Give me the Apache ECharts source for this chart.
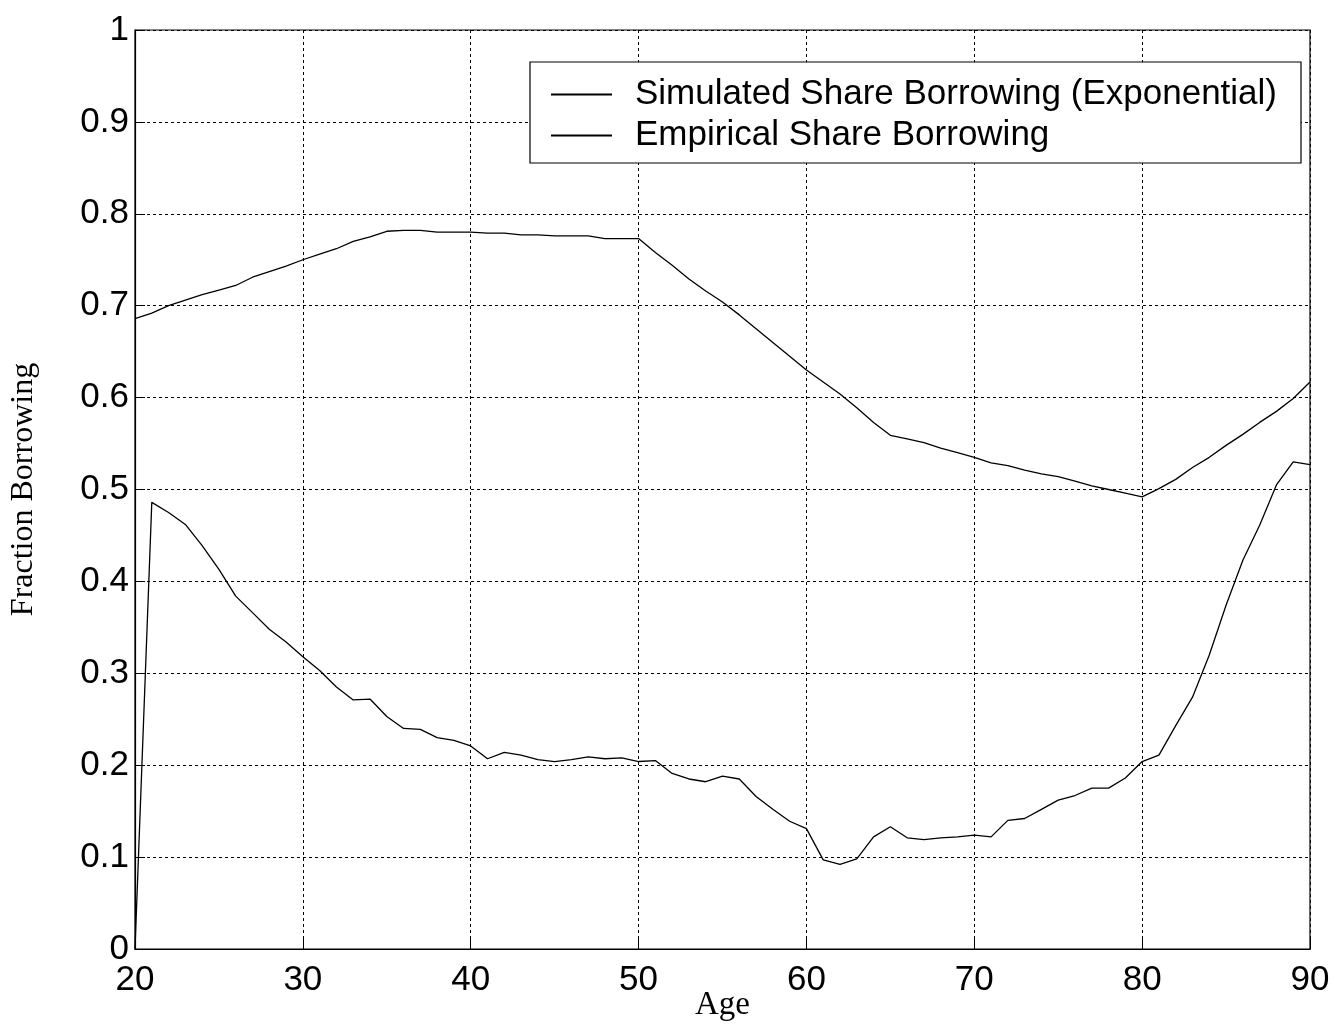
<!DOCTYPE html>
<html>
<head>
<meta charset="utf-8">
<script src="https://cdn.jsdelivr.net/npm/echarts@6/dist/echarts.min.js"></script>
<style>
html,body{margin:0;padding:0;background:#fff;}
#chart{width:1341px;height:1024px;}
</style>
</head>
<body>
<div id="chart"></div>
<script>
const ages = [20,21,22,23,24,25,26,27,28,29,30,31,32,33,34,35,36,37,38,39,40,41,42,43,44,45,46,47,48,49,50,51,52,53,54,55,56,57,58,59,60,61,62,63,64,65,66,67,68,69,70,71,72,73,74,75,76,77,78,79,80,81,82,83,84,85,86,87,88,89,90];
const simulated = [0.686,0.692,0.700,0.706,0.712,0.717,0.722,0.731,0.737,0.743,0.750,0.756,0.762,0.770,0.775,0.781,0.782,0.782,0.780,0.780,0.780,0.779,0.779,0.777,0.777,0.776,0.776,0.776,0.773,0.773,0.773,0.758,0.744,0.729,0.716,0.704,0.690,0.675,0.660,0.645,0.630,0.617,0.604,0.589,0.573,0.559,0.555,0.551,0.545,0.540,0.535,0.529,0.526,0.521,0.517,0.514,0.509,0.504,0.500,0.496,0.492,0.501,0.511,0.524,0.535,0.548,0.560,0.573,0.585,0.599,0.617];
const empirical = [0,0.486,0.475,0.462,0.439,0.413,0.384,0.366,0.348,0.334,0.318,0.303,0.285,0.271,0.272,0.253,0.240,0.239,0.230,0.227,0.221,0.207,0.214,0.211,0.206,0.204,0.206,0.209,0.207,0.208,0.204,0.205,0.191,0.185,0.182,0.188,0.185,0.166,0.152,0.139,0.131,0.097,0.092,0.098,0.122,0.133,0.121,0.119,0.121,0.122,0.124,0.122,0.140,0.142,0.152,0.162,0.167,0.175,0.175,0.186,0.204,0.211,0.243,0.274,0.320,0.374,0.423,0.461,0.505,0.530,0.527];
const seriesNames = ['Simulated Share Borrowing (Exponential)','Empirical Share Borrowing'];
const xTicks = {min:20, max:90, interval:10};
const yTicks = {min:0, max:1, interval:0.1};

const chart = echarts.init(document.getElementById('chart'));
const grid = {lineStyle:{color:'#000',width:1,type:[3,3]}};
chart.setOption({
  backgroundColor:'#fff',
  animation:false,
  grid:{left:135,right:31,top:30,bottom:75,outerBoundsMode:'none',containLabel:false,show:true,borderColor:'#000',borderWidth:1.2,backgroundColor:'transparent'},
  legend:{
    orient:'vertical', left:530, top:62,
    backgroundColor:'#fff', borderColor:'#000', borderWidth:1.2,
    padding:[15,24,10,21], itemGap:6, itemWidth:61, itemHeight:2,
    icon:'rect',
    textStyle:{fontFamily:'Liberation Sans, Arial, sans-serif',fontSize:35,color:'#000',lineHeight:34,padding:[0,0,0,18]},
    data:seriesNames
  },
  xAxis:{
    type:'value', min:xTicks.min, max:xTicks.max, interval:xTicks.interval,
    name:'Age', nameLocation:'middle', nameGap:40, nameMoveOverlap:false,
    nameTextStyle:{fontFamily:'Liberation Serif, Times New Roman, serif',fontSize:33,color:'#000'},
    axisLine:{show:true,lineStyle:{color:'#000',width:1.2}},
    axisTick:{show:true,inside:true,length:10,lineStyle:{color:'#000'}},
    axisLabel:{fontFamily:'Liberation Sans, Arial, sans-serif',fontSize:35,color:'#000',margin:14},
    splitLine:{show:true,...grid}
  },
  yAxis:{
    type:'value', min:yTicks.min, max:yTicks.max, interval:yTicks.interval,
    name:'Fraction Borrowing', nameLocation:'middle', nameGap:95, nameMoveOverlap:false,
    nameTextStyle:{fontFamily:'Liberation Serif, Times New Roman, serif',fontSize:32,color:'#000'},
    axisLine:{show:true,lineStyle:{color:'#000',width:1.2}},
    axisTick:{show:true,inside:true,length:10,lineStyle:{color:'#000'}},
    axisLabel:{fontFamily:'Liberation Sans, Arial, sans-serif',fontSize:35,color:'#000',margin:6,
      formatter:v=>String(Math.round(v*10)/10)},
    splitLine:{show:true,...grid}
  },
  series:[
    {name:seriesNames[0],type:'line',symbol:'none',data:ages.map((a,i)=>[a,simulated[i]]),lineStyle:{color:'#000',width:1.3},itemStyle:{color:'#000'}},
    {name:seriesNames[1],type:'line',symbol:'none',data:ages.map((a,i)=>[a,empirical[i]]),lineStyle:{color:'#000',width:1.3},itemStyle:{color:'#000'}}
  ]
});
</script>
</body>
</html>
